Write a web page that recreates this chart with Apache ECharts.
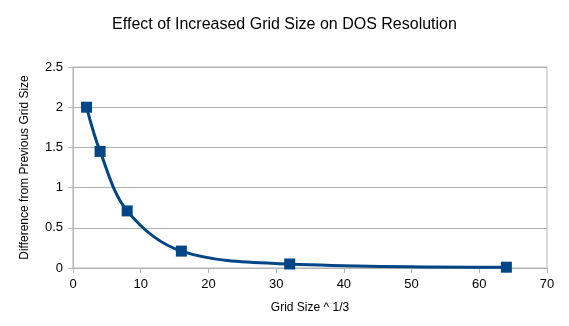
<!DOCTYPE html>
<html><head><meta charset="utf-8">
<script src="https://cdn.jsdelivr.net/npm/echarts@6/dist/echarts.min.js"></script>
<style>html,body{margin:0;padding:0;background:#fff}#c{width:569px;height:326px}</style>
</head><body><div id="c"></div>
<script>
const gridSize = [2, 4, 8, 16, 32, 64];
const difference = [2.0, 1.45, 0.71, 0.21, 0.05, 0.01];
const titleText = 'Effect of Increased Grid Size on DOS Resolution';
const xName = 'Grid Size ^ 1/3';
const yName = 'Difference from Previous Grid Size';

const chart = echarts.init(document.getElementById('c'), null, {renderer: 'canvas'});
const ff = '"Liberation Sans", Arial, sans-serif';
chart.setOption({
  animation: false,
  backgroundColor: '#fff',
  title: {text: titleText, left: 'center', top: 12,
    textStyle: {fontFamily: ff, fontSize: 16, fontWeight: 'normal', color: '#000'}},
  grid: {left: 73, right: 22, top: 67, bottom: 58, show: true, borderColor: '#b3b3b3', borderWidth: 1},
  xAxis: {type: 'value', min: 0, max: 70, interval: 10,
    name: xName, nameLocation: 'middle', nameGap: 34,
    nameTextStyle: {fontFamily: ff, fontSize: 12, color: '#000'},
    axisLine: {lineStyle: {color: '#b3b3b3'}},
    axisTick: {show: true, length: 5, lineStyle: {color: '#b3b3b3'}},
    axisLabel: {fontFamily: ff, fontSize: 13, color: '#000', margin: 10},
    splitLine: {show: false}},
  yAxis: {type: 'value', min: 0, max: 2.5, interval: 0.5,
    name: yName, nameLocation: 'middle', nameGap: 42,
    nameTextStyle: {fontFamily: ff, fontSize: 12, color: '#000'},
    axisLine: {show: true, lineStyle: {color: '#b3b3b3'}},
    axisTick: {show: true, length: 5, lineStyle: {color: '#b3b3b3'}},
    axisLabel: {fontFamily: ff, fontSize: 13, color: '#000', margin: 10},
    splitLine: {show: true, lineStyle: {color: '#b3b3b3'}}},
  series: [{
    type: 'line',
    data: gridSize.map((x, i) => [x, difference[i]]),
    smooth: 0.35,
    symbol: 'rect', symbolSize: 11,
    itemStyle: {color: '#004586'},
    lineStyle: {color: '#004586', width: 3}
  }]
});
</script></body></html>
